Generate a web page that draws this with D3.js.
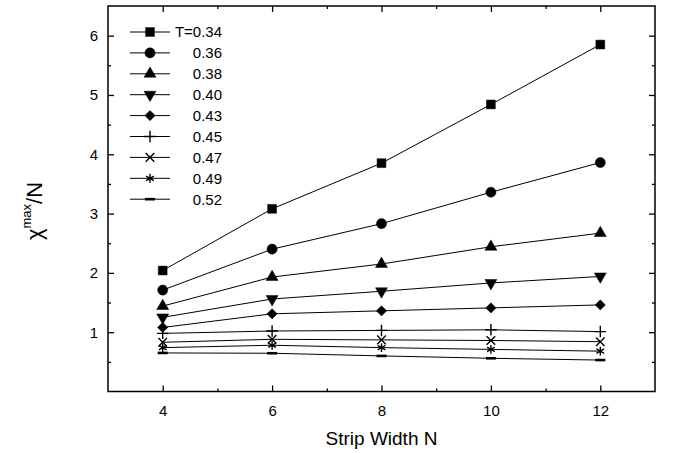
<!DOCTYPE html>
<html>
<head>
<meta charset="utf-8">
<script src="https://cdn.jsdelivr.net/npm/d3@7"></script>
<style>
  body { margin: 0; background: #fff; }
  text { font-family: "Liberation Sans", Arial, sans-serif; fill: #000; }
</style>
</head>
<body>
<script>
// data
const stripN = [4, 6, 8, 10, 12];
const tLabels = ["T=0.34", "0.36", "0.38", "0.40", "0.43", "0.45", "0.47", "0.49", "0.52"];
const t034 = [2.04, 3.08, 3.85, 4.84, 5.85];
const t036 = [1.71, 2.40, 2.83, 3.36, 3.86];
const t038 = [1.44, 1.93, 2.15, 2.44, 2.67];
const t040 = [1.25, 1.56, 1.69, 1.83, 1.94];
const t043 = [1.08, 1.31, 1.36, 1.41, 1.46];
const t045 = [0.98, 1.02, 1.03, 1.04, 1.01];
const t047 = [0.83, 0.88, 0.87, 0.86, 0.84];
const t049 = [0.74, 0.78, 0.74, 0.71, 0.68];
const t052 = [0.65, 0.645, 0.60, 0.56, 0.53];
const allSeries = [t034, t036, t038, t040, t043, t045, t047, t049, t052];
const xTicks = [4, 6, 8, 10, 12];
const xMinor = [5, 7, 9, 11];
const yTicks = [1, 2, 3, 4, 5, 6];
const yMinor = [0.5, 1.5, 2.5, 3.5, 4.5, 5.5];

var margin = {top: 6, right: 18, bottom: 61.5, left: 108},
  width = 673 - margin.left - margin.right,
  height = 453 - margin.top - margin.bottom;

let svg = d3.select("body").append("svg")
  .attr("width", 673)
  .attr("height", 453)
  .append("g")
  .attr("transform", "translate(" + margin.left + "," + margin.top + ")");

var x = d3.scaleLinear().domain([3, 13]).range([0, width]);
var y = d3.scaleLinear().domain([0, 6.5]).range([height, 0]);

// axes, ticks pointing inwards on all four sides
let styleAxis = (g) => {
  g.select(".domain").remove();
  g.selectAll("line").attr("stroke", "#000").attr("stroke-width", 1.3);
  g.selectAll("text").style("font-size", "15px").attr("fill", "#000");
};

svg.append("g")
  .attr("transform", "translate(0," + height + ")")
  .call(d3.axisBottom(x).tickValues(xTicks).tickSize(-6).tickPadding(14).tickFormat(d3.format("d")))
  .call(styleAxis);
svg.append("g")
  .attr("transform", "translate(0," + height + ")")
  .call(d3.axisBottom(x).tickValues(xMinor).tickSize(-3).tickFormat(""))
  .call(styleAxis);
svg.append("g")
  .call(d3.axisTop(x).tickValues(xTicks).tickSize(-6).tickFormat(""))
  .call(styleAxis);
svg.append("g")
  .call(d3.axisTop(x).tickValues(xMinor).tickSize(-3).tickFormat(""))
  .call(styleAxis);

svg.append("g")
  .call(d3.axisLeft(y).tickValues(yTicks).tickSize(-6).tickPadding(10).tickFormat(d3.format("d")))
  .call(styleAxis);
svg.append("g")
  .call(d3.axisLeft(y).tickValues(yMinor).tickSize(-3).tickFormat(""))
  .call(styleAxis);
svg.append("g")
  .attr("transform", "translate(" + width + ",0)")
  .call(d3.axisRight(y).tickValues(yTicks).tickSize(-6).tickFormat(""))
  .call(styleAxis);
svg.append("g")
  .attr("transform", "translate(" + width + ",0)")
  .call(d3.axisRight(y).tickValues(yMinor).tickSize(-3).tickFormat(""))
  .call(styleAxis);

svg.append("rect")
  .attr("width", width)
  .attr("height", height)
  .attr("fill", "none")
  .attr("stroke", "#000")
  .attr("stroke-width", 1.5);

// axis titles
svg.append("text")
  .attr("x", width / 2)
  .attr("y", height + 53)
  .attr("text-anchor", "middle")
  .style("font-size", "19px")
  .text("Strip Width N");

let yTitle = svg.append("text")
  .attr("transform", "translate(" + (42 - margin.left) + "," + (211 - margin.top) + ") rotate(-90)")
  .attr("text-anchor", "middle")
  .style("font-size", "22px");
yTitle.append("tspan").text("χ");
yTitle.append("tspan").attr("dy", -11).style("font-size", "13px").text("max");
yTitle.append("tspan").attr("dy", 11).text("/N");

// markers
let markers = [
  {type: d3.symbolSquare, size: 78, fill: true},
  {type: d3.symbolCircle, size: 80, fill: true},
  {type: d3.symbolTriangle, size: 62, fill: true},
  {type: d3.symbolTriangle, size: 62, fill: true, rot: 180},
  {type: d3.symbolSquare, size: 52, fill: true, rot: 45},
  {type: d3.symbolPlus, size: 45, fill: false},
  {type: d3.symbolTimes, size: 50, fill: false},
  {type: d3.symbolAsterisk, size: 55, fill: false},
  {type: "dash"}
];

let drawMarker = (g, m, cx, cy) => {
  if (m.type === "dash") {
    g.append("rect")
      .attr("x", cx - 5).attr("y", cy - 1.3)
      .attr("width", 10).attr("height", 2.6)
      .attr("fill", "#000");
    return;
  }
  g.append("path")
    .attr("d", d3.symbol().type(m.type).size(m.size)())
    .attr("transform", "translate(" + cx + "," + cy + ")" + (m.rot ? " rotate(" + m.rot + ")" : ""))
    .attr("fill", m.fill ? "#000" : "none")
    .attr("stroke", "#000")
    .attr("stroke-width", m.fill ? 0.5 : 1.4);
};

let line = d3.line()
  .x((d, i) => x(stripN[i]))
  .y((d) => y(d));

allSeries.forEach((vals, k) => {
  let g = svg.append("g");
  g.append("path")
    .datum(vals)
    .attr("d", line)
    .attr("fill", "none")
    .attr("stroke", "#000")
    .attr("stroke-width", 1);
  vals.forEach((v, i) => drawMarker(g, markers[k], x(stripN[i]), y(v)));
});

// legend
let legend = svg.append("g").attr("transform", "translate(" + (130 - margin.left) + "," + (32 - margin.top) + ")");
tLabels.forEach((lab, k) => {
  let row = legend.append("g").attr("transform", "translate(0," + (k * 20.9) + ")");
  row.append("line")
    .attr("x1", 0).attr("x2", 40)
    .attr("stroke", "#000").attr("stroke-width", 1);
  drawMarker(row, markers[k], 20, 0);
  row.append("text")
    .attr("x", 92)
    .attr("dy", "0.36em")
    .attr("text-anchor", "end")
    .style("font-size", "15px")
    .text(lab);
});
</script>
</body>
</html>
